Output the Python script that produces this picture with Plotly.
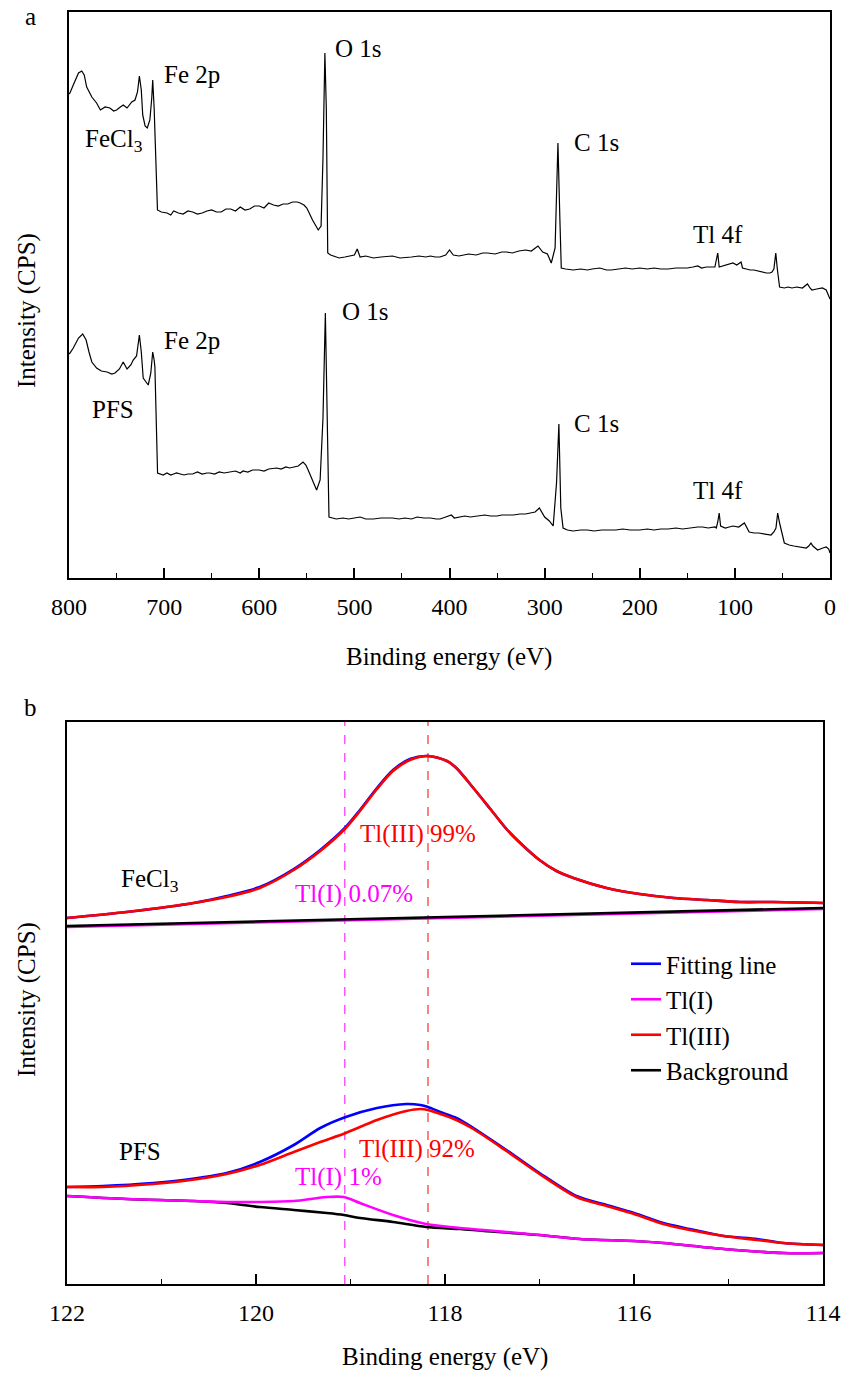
import plotly.graph_objects as go

# ---------------- Panel a: XPS survey spectra ----------------
a_fecl3_be = [800, 799, 795.5, 790, 786.6, 784, 781.4, 776, 771, 767, 762, 757, 753, 750, 746, 743, 739, 734,
              730.6, 728, 726, 724, 722.5, 720, 717.7, 715, 713, 712, 710.5, 709.6, 707, 703, 697, 693, 690, 685,
              680, 675, 670, 665, 660, 655, 650, 645, 640, 635, 630, 625, 620, 615, 610, 605, 600, 595, 590, 585,
              580, 575, 570, 565, 560, 557, 553, 550, 544, 538, 535, 533, 531, 529.5, 528, 525, 522, 516, 510, 504,
              500, 497, 494, 488, 480, 472, 465, 460, 452, 445, 440, 432, 425, 420, 415, 410, 404, 400, 396, 390,
              385, 380, 372, 365, 360, 352, 345, 340, 334, 327, 320, 314, 307, 302, 297, 293, 289, 286, 284, 282.5,
              278, 270, 262, 255, 250, 242, 235, 230, 222, 215, 208, 200, 192, 185, 178, 170, 162, 155, 150, 144,
              139, 135, 130, 125, 121, 119.5, 118, 116.5, 113, 108, 102, 98, 96, 93.5, 92, 88, 84, 80, 75, 70, 67,
              63, 61, 59, 57, 55.5, 53, 48, 44, 40, 35, 29, 26, 23.7, 21, 19, 14, 8, 4, 1.5, 0]
a_fecl3_y = [484, 485, 493, 505, 507, 503, 491, 481, 475, 468, 471, 470, 467, 468, 471, 473, 470, 476,
             478, 486, 502, 488, 463, 452, 450, 458, 480, 498, 470, 445, 368, 366, 365, 363, 367, 365,
             364, 367, 366, 364, 365, 367, 368, 366, 366, 369, 369, 367, 371, 368, 369, 372, 372, 370, 375, 373,
             372, 374, 374, 376, 376, 375, 373, 370, 358, 348, 352, 420, 525, 470, 325, 323, 322, 320, 321, 322,
             323, 329, 321, 322, 320, 321, 322, 322, 320, 321, 321, 322, 321, 322, 321, 321, 323, 328, 323, 322,
             323, 324, 323, 325, 325, 324, 326, 326, 325, 327, 328, 327, 332, 326, 324, 315, 330, 435, 360, 310,
             309, 308, 309, 308, 309, 310, 308, 308, 309, 310, 309, 310, 309, 310, 309, 309, 310, 310, 310, 311,
             312, 310, 311, 311, 311, 318, 325, 311, 312, 313, 315, 313, 314, 316, 310, 309, 308, 308, 307, 306, 305,
             305, 306, 309, 325, 310, 291, 290, 291, 290, 291, 290, 292, 294, 290, 288, 289, 290, 288, 281, 279]

a_pfs_be = [800, 799, 795.5, 790, 785.6, 782, 779, 776, 771, 766, 760, 755, 751.6, 747, 743, 739, 735, 732.5,
            729, 726, 724, 722, 719, 716.7, 714, 712, 710.5, 709.7, 706.9, 703, 701, 697, 693, 690, 687, 683, 679,
            675, 670, 665, 660, 655, 652, 647, 642, 637, 630, 625, 620, 617, 612, 607, 600, 595, 590, 585, 581.7,
            577, 572, 568, 564, 559, 554, 551, 548.6, 543, 539.7, 536, 533, 530.5, 528.5, 526.7, 523, 519, 512, 506,
            500, 494, 488, 480, 472, 466, 460, 453, 447, 440, 434, 427, 420, 414, 410, 404, 398, 395, 390, 384,
            378, 370, 363, 357, 350, 345, 340, 333, 326, 320, 315, 310, 305.5, 300, 295, 291, 287.5, 285, 283,
            280.6, 276, 270, 262, 255, 248, 240, 232, 225, 218, 210, 200, 192, 185, 178, 170, 162, 155, 148, 139,
            134, 128, 121, 119.5, 118, 116.5, 115, 110, 106, 102, 96, 93.5, 90, 85, 80, 75, 70, 65.5, 62, 59,
            56.8, 55, 53, 48, 43, 38, 33, 28.6, 25, 22.3, 20, 18, 13, 7.5, 4, 1.3, 0]
a_pfs_y = [224, 225, 230, 240, 244, 238, 226, 216, 210, 207, 206, 204, 205, 209, 216, 209, 213, 218,
           222, 243, 226, 200, 196, 193, 205, 226, 218, 211, 105, 104, 103, 105, 103, 104, 105, 104, 103,
           104, 104, 106, 104, 105, 105, 104, 106, 105, 106, 107, 105, 107, 106, 108, 108, 107, 109, 110, 110,
           109, 111, 110, 111, 112, 116, 113, 108, 96, 88, 98, 160, 265, 170, 61, 60, 59, 60, 59,
           60, 61, 59, 59, 60, 60, 60, 59, 60, 59, 61, 60, 60, 59, 59, 61, 63, 60, 61, 62,
           61, 62, 63, 62, 62, 63, 63, 63, 64, 64, 65, 66, 70, 61, 57, 52, 95, 154, 70,
           50, 48, 47, 48, 48, 47, 48, 48, 48, 49, 48, 48, 49, 48, 49, 49, 50, 49, 50, 51, 51,
           50, 51, 50, 56, 65, 52, 50, 51, 52, 51, 53, 55, 46, 45, 45, 44, 43, 43, 46, 50,
           65, 55, 35, 33, 32, 31, 30, 30, 32, 35, 32, 28, 30, 31, 29, 25, 22]

a_labels = ["Fe 2p", "O 1s", "FeCl<sub>3</sub>", "C 1s", "Tl 4f",
            "Fe 2p", "O 1s", "PFS", "C 1s", "Tl 4f"]
a_label_x = [702, 522.5, 785, 271, 146, 702, 515, 778, 271, 146]
a_label_y = [504, 530, 438, 436, 344, 238, 267, 169, 155, 88]

a_ticks = [800, 700, 600, 500, 400, 300, 200, 100, 0]

# ---------------- Panel b: Tl 4f high-resolution ----------------
b_fecl3_fit_be = [122.0, 121.37, 120.66, 120.31, 119.96, 119.6, 119.32, 119.05, 118.9, 118.72, 118.55, 118.37,
                  118.18, 117.98, 117.88, 117.70, 117.52, 117.35, 117.17, 117.0, 116.82, 116.64, 116.29,
                  115.94, 115.58, 115.23, 114.88, 114.53, 114.0]
b_fecl3_fit = [366, 372, 381, 388, 397, 415, 434, 457, 474, 496, 514, 525,
               528, 523, 516, 496, 475, 455, 438, 424, 413, 406, 396,
               390, 386, 384, 382, 382, 381]
b_fecl3_tl3 = [366, 372, 381, 387, 396, 414, 433, 456, 473, 495, 513, 524,
               528, 523, 516, 496, 475, 455, 438, 424, 413, 406, 396,
               390, 386, 384, 382, 382, 381]
b_fecl3_tl1_be = [122.0, 120.0, 119.06, 118.0, 116.0, 114.0]
b_fecl3_tl1 = [357, 361.5, 364, 366, 370.5, 375]
b_fecl3_bg_be = [122.0, 120.0, 118.0, 116.0, 114.0]
b_fecl3_bg = [358, 362.5, 367, 371.5, 376]

b_pfs_be = [122.0, 121.62, 121.09, 120.77, 120.31, 119.96, 119.6, 119.32, 119.05, 118.72, 118.41, 118.26,
            118.18, 118.05, 117.88, 117.70, 117.35, 117.0, 116.61, 116.29, 116.0, 115.69, 115.41, 115.05,
            114.7, 114.42, 114.0]
b_pfs_fit = [97, 98, 101, 104, 111, 122, 139, 156, 167, 176, 180, 179,
             177, 172, 166, 156, 134, 111, 88, 79, 71, 61, 55, 48,
             45, 41, 39]
b_pfs_tl3 = [97, 97, 100, 103, 110, 119, 132, 142, 151, 164, 173, 175,
             174, 170, 164, 155, 133, 110, 87, 78, 70, 60, 54, 48,
             44, 41, 39]
b_pfs_tl1_be = [122.0, 121.37, 120.66, 120.31, 119.96, 119.6, 119.25, 119.07, 118.9, 118.55, 118.2, 117.84,
                117.59, 117.0, 116.57, 116.0, 115.69, 115.05, 114.42, 114.0]
b_pfs_tl1 = [88, 85, 83, 82, 82, 83, 87, 87, 81, 69, 60, 56,
             54, 49, 45, 43, 41, 35, 31, 31]
b_pfs_bg = [88, 85, 83, 81, 77, 74, 71, 69, 66, 62, 57, 55,
            53, 49, 45, 43, 41, 35, 31, 31]

b_peak_lines = [119.06, 118.18]
b_peak_colors = ["#ff00ff", "#ff0000"]

b_labels = ["FeCl<sub>3</sub>", "Tl(III) 99%", "Tl(I) 0.07%", "PFS", "Tl(III) 92%", "Tl(I) 1%"]
b_label_x = [121.45, 118.92, 119.61, 121.47, 118.93, 119.61]
b_label_y = [404, 450, 390, 133, 135, 107]
b_label_colors = ["black", "#ff0000", "#ff00ff", "black", "#ff0000", "#ff00ff"]

b_ticks = [122, 120, 118, 116, 114]

FONT = "Liberation Serif"
BLUE, MAG, RED, BLK = "#0000ff", "#ff00ff", "#ff0000", "#000000"

fig = go.Figure()

fig.add_trace(go.Scatter(x=a_fecl3_be, y=a_fecl3_y, mode="lines", line=dict(color=BLK, width=1.2),
                         showlegend=False, xaxis="x", yaxis="y"))
fig.add_trace(go.Scatter(x=a_pfs_be, y=a_pfs_y, mode="lines", line=dict(color=BLK, width=1.2),
                         showlegend=False, xaxis="x", yaxis="y"))

W = 2.6
SP = dict(shape="spline", smoothing=0.8)
# FeCl3 set
fig.add_trace(go.Scatter(x=b_fecl3_tl1_be, y=b_fecl3_tl1, mode="lines", line=dict(color=MAG, width=W),
                         showlegend=False, xaxis="x2", yaxis="y2"))
fig.add_trace(go.Scatter(x=b_fecl3_bg_be, y=b_fecl3_bg, mode="lines", line=dict(color=BLK, width=W),
                         showlegend=False, xaxis="x2", yaxis="y2"))
fig.add_trace(go.Scatter(x=b_fecl3_fit_be, y=b_fecl3_fit, mode="lines", line=dict(color=BLUE, width=W, **SP),
                         showlegend=False, xaxis="x2", yaxis="y2"))
fig.add_trace(go.Scatter(x=b_fecl3_fit_be, y=b_fecl3_tl3, mode="lines", line=dict(color=RED, width=W, **SP),
                         showlegend=False, xaxis="x2", yaxis="y2"))
# PFS set (with legend entries)
fig.add_trace(go.Scatter(x=b_pfs_tl1_be, y=b_pfs_bg, mode="lines", line=dict(color=BLK, width=W, **SP),
                         name="Background", legendrank=4, xaxis="x2", yaxis="y2"))
fig.add_trace(go.Scatter(x=b_pfs_tl1_be, y=b_pfs_tl1, mode="lines", line=dict(color=MAG, width=W, **SP),
                         name="Tl(I)", legendrank=2, xaxis="x2", yaxis="y2"))
fig.add_trace(go.Scatter(x=b_pfs_be, y=b_pfs_fit, mode="lines", line=dict(color=BLUE, width=W, **SP),
                         name="Fitting line", legendrank=1, xaxis="x2", yaxis="y2"))
fig.add_trace(go.Scatter(x=b_pfs_be, y=b_pfs_tl3, mode="lines", line=dict(color=RED, width=W, **SP),
                         name="Tl(III)", legendrank=3, xaxis="x2", yaxis="y2"))

for xv, c in zip(b_peak_lines, b_peak_colors):
    fig.add_shape(type="line", xref="x2", yref="y2 domain", x0=xv, x1=xv, y0=0, y1=1,
                  line=dict(color=c, width=1, dash="dash"), layer="below")

ann = []
for t, x, y in zip(a_labels, a_label_x, a_label_y):
    ann.append(dict(text=t, x=x, y=y, xref="x", yref="y", xanchor="left", yanchor="middle",
                    showarrow=False, font=dict(size=25, color="black", family=FONT)))
for t, x, y, c in zip(b_labels, b_label_x, b_label_y, b_label_colors):
    ann.append(dict(text=t, x=x, y=y, xref="x2", yref="y2", xanchor="left", yanchor="middle",
                    showarrow=False, font=dict(size=25, color=c, family=FONT)))

def paper_annot(text, px, py, angle=0):
    return dict(text=text, x=px / 841, y=1 - py / 1376, xref="paper", yref="paper",
                xanchor="center", yanchor="middle", showarrow=False, textangle=angle,
                font=dict(size=25, color="black", family=FONT))

ann += [paper_annot("a", 31, 17), paper_annot("b", 31, 707),
        paper_annot("Binding energy (eV)", 449, 657), paper_annot("Binding energy (eV)", 445, 1357),
        paper_annot("Intensity (CPS)", 27, 311, -90), paper_annot("Intensity (CPS)", 27, 1000, -90)]

axis_common = dict(showgrid=False, zeroline=False, showline=True, linecolor="black", linewidth=2,
                   mirror=True, automargin=False)

fig.update_layout(
    width=841, height=1376, autosize=False,
    margin=dict(l=0, r=0, t=0, b=0, pad=0, autoexpand=False),
    paper_bgcolor="white", plot_bgcolor="white",
    font=dict(family=FONT, size=24, color="black"),
    xaxis=dict(domain=[69 / 841, 830 / 841], range=[800, 0], tickvals=a_ticks,
               ticks="inside", ticklen=10, tickwidth=1.6, tickcolor="black",
               minor=dict(dtick=50, tick0=0, ticks="inside", ticklen=5, tickwidth=1.3, tickcolor="black"),
               tickfont=dict(size=24, family=FONT), ticklabelstandoff=6, anchor="y", **axis_common),
    yaxis=dict(domain=[1 - 578 / 1376, 1 - 12 / 1376], range=[0, 566], showticklabels=False,
               ticks="", anchor="x", **axis_common),
    xaxis2=dict(domain=[67 / 841, 823 / 841], range=[122, 114], tickvals=b_ticks,
                ticks="inside", ticklen=10, tickwidth=1.6, tickcolor="black",
                minor=dict(dtick=1, tick0=0, ticks="inside", ticklen=5, tickwidth=1.3, tickcolor="black"),
                tickfont=dict(size=24, family=FONT), ticklabelstandoff=6, anchor="y2", **axis_common),
    yaxis2=dict(domain=[1 - 1284 / 1376, 1 - 722 / 1376], range=[0, 562], showticklabels=False,
                ticks="", anchor="x2", **axis_common),
    legend=dict(x=626 / 841, y=1 - 941 / 1376, xanchor="left", yanchor="top",
                bgcolor="rgba(0,0,0,0)", borderwidth=0, font=dict(size=25, family=FONT),
                itemwidth=30, tracegroupgap=0),
    annotations=ann,
)

fig.write_html("out.html", config={"displayModeBar": False},
               post_script="document.body.style.margin='0';document.body.style.overflow='hidden';")
